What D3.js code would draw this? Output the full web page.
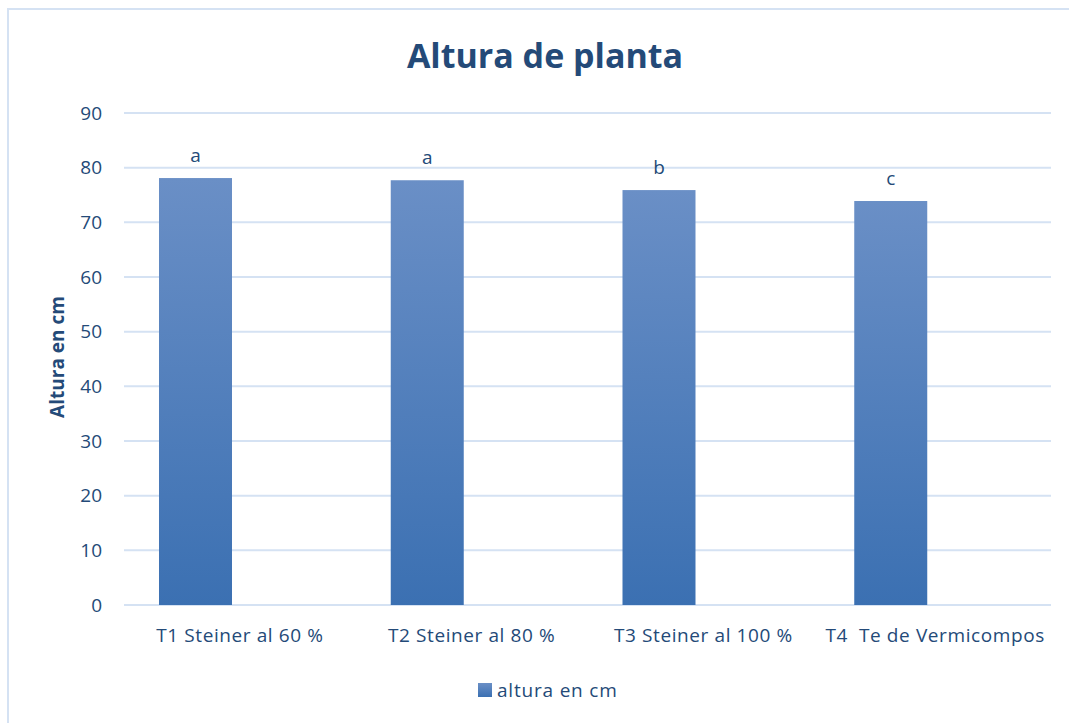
<!DOCTYPE html>
<html>
<head>
<meta charset="utf-8">
<script src="https://cdn.jsdelivr.net/npm/d3@7"></script>
<style>
  body { margin: 0; background: #fff; }
  text { font-family: "Open Sans", "Noto Sans", sans-serif; fill: #244a78; white-space: pre; }
</style>
</head>
<body>
<div class="chart"></div>
<script>
// data
var categories = ["T1 Steiner al 60 %", "T2 Steiner al 80 %", "T3 Steiner al 100 %", "T4  Te de Vermicompos"];
var values = [78.1, 77.7, 75.9, 73.9];
var letters = ["a", "a", "b", "c"];
var yTicks = [0, 10, 20, 30, 40, 50, 60, 70, 80, 90];
var seriesName = "altura en cm";

var W = 1069, H = 723;
var margin = {top: 113, right: 18, bottom: 118, left: 124},
    width = W - margin.left - margin.right,
    height = H - margin.top - margin.bottom;

var svg = d3.select(".chart").append("svg")
    .attr("width", W)
    .attr("height", H);

// outer frame
svg.append("rect")
    .attr("x", 8).attr("y", 9)
    .attr("width", W + 10).attr("height", H + 10)
    .attr("fill", "none")
    .attr("stroke", "#d5e2f3")
    .attr("stroke-width", 2);

var defs = svg.append("defs");
var grad = defs.append("linearGradient")
    .attr("id", "barGrad")
    .attr("x1", 0).attr("y1", 0).attr("x2", 0).attr("y2", 1);
grad.append("stop").attr("offset", "0%").attr("stop-color", "#6a8fc6");
grad.append("stop").attr("offset", "100%").attr("stop-color", "#3b70b2");

var g = svg.append("g")
    .attr("transform", "translate(" + margin.left + "," + margin.top + ")");

var x = d3.scaleBand().domain(categories).range([0, width]);
var y = d3.scaleLinear().domain([0, 90]).range([height, 0]);

// gridlines
g.append("g").selectAll("line")
    .data(yTicks)
    .enter()
    .append("line")
    .attr("x1", 0).attr("x2", width)
    .attr("y1", (d) => y(d)).attr("y2", (d) => y(d))
    .attr("stroke", "#d5e2f3")
    .attr("stroke-width", 2);

// y axis labels
var yAxis = g.append("g")
    .call(d3.axisLeft(y).tickValues(yTicks).tickSize(0).tickPadding(22));
yAxis.select(".domain").remove();
yAxis.selectAll("text")
    .attr("fill", "#244a78")
    .style("font-size", "19px")
    .style("font-family", "'Open Sans', sans-serif");

// x axis labels
var xAxis = g.append("g")
    .attr("transform", "translate(0," + height + ")")
    .call(d3.axisBottom(x).tickSize(0).tickPadding(24));
xAxis.select(".domain").remove();
xAxis.selectAll("text")
    .attr("fill", "#244a78")
    .style("font-size", "19px")
    .style("letter-spacing", "0.6px")
    .style("white-space", "pre")
    .style("font-family", "'Open Sans', sans-serif");

// bars (sit in left part of the band, like an Excel cluster)
var barOff = 0.151, barW = 0.315;
g.append("g").selectAll("rect")
    .data(values)
    .enter()
    .append("rect")
    .attr("x", (d, i) => x(categories[i]) + x.bandwidth() * barOff)
    .attr("width", x.bandwidth() * barW)
    .attr("y", (d) => y(d))
    .attr("height", (d) => height - y(d))
    .attr("fill", "url(#barGrad)");

// significance letters
g.append("g").selectAll("text")
    .data(values)
    .enter()
    .append("text")
    .attr("x", (d, i) => x(categories[i]) + x.bandwidth() * (barOff + barW / 2))
    .attr("y", (d) => y(d) - 16)
    .attr("text-anchor", "middle")
    .style("font-size", "19px")
    .text((d, i) => letters[i]);

// title
svg.append("text")
    .attr("x", 545).attr("y", 68)
    .attr("text-anchor", "middle")
    .style("font-size", "34px")
    .style("font-weight", "bold")
    .text("Altura de planta");

// y title
svg.append("text")
    .attr("transform", "translate(64," + (margin.top + height / 2 - 2) + ") rotate(-90)")
    .attr("text-anchor", "middle")
    .style("font-size", "19px")
    .style("font-weight", "bold")
    .text("Altura en cm");

// legend
var leg = svg.append("g").attr("transform", "translate(478,683)");
leg.append("rect")
    .attr("width", 14).attr("height", 14)
    .attr("fill", "url(#barGrad)");
leg.append("text")
    .attr("x", 19).attr("y", 14)
    .style("font-size", "19px")
    .style("letter-spacing", "0.8px")
    .text(seriesName);
</script>
</body>
</html>
